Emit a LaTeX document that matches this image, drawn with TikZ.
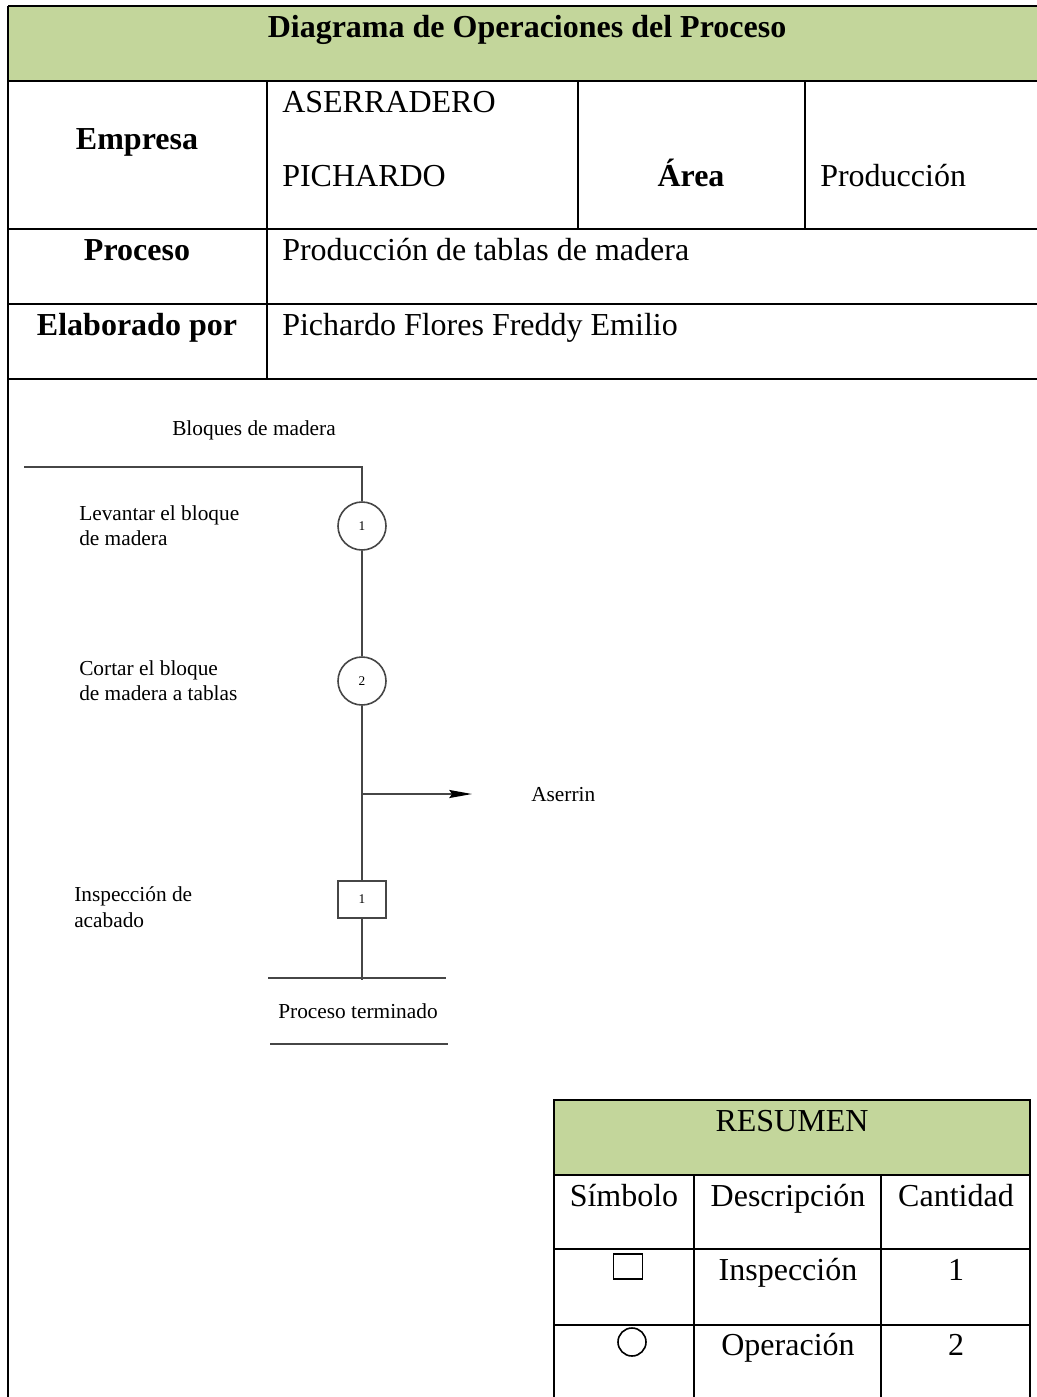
\documentclass[tikz,border=0pt]{standalone}
\usepackage{fontspec}
\setmainfont{Liberation Serif}
\usetikzlibrary{arrows.meta}
\definecolor{hdrgreen}{RGB}{195,214,155}
\definecolor{flowgray}{RGB}{70,70,70}
\tikzset{
  tline/.style={line width=1.5pt, black},
  cell/.style={font=\fontsize{24}{28}\selectfont, inner sep=0pt},
  cellb/.style={font=\fontsize{24}{28}\selectfont\bfseries, inner sep=0pt},
  flow/.style={line width=1.2pt, flowgray},
  lbl/.style={font=\fontsize{16}{19.2}\selectfont, inner sep=0pt, align=left},
  opnode/.style={circle, draw=flowgray, line width=1.2pt, minimum size=36pt, inner sep=0pt, font=\fontsize{10}{11}\selectfont},
  inspnode/.style={rectangle, draw=flowgray, line width=1.2pt, minimum width=36pt, minimum height=27.75pt, inner sep=0pt, font=\fontsize{10}{11}\selectfont},
}
\begin{document}
\begin{tikzpicture}[x=0.75pt, y=-0.75pt]
\useasboundingbox (0,0) rectangle (1037,1397);
% ---------------- header table ----------------
\fill[hdrgreen] (8,6) rectangle (1037,81);
\draw[tline] (8,6) -- (1037,6);
\draw[tline] (8,81) -- (1037,81);
\draw[tline] (8,229) -- (1037,229);
\draw[tline] (8,304) -- (1037,304);
\draw[tline] (8,379) -- (1037,379);
\draw[tline] (8,6) -- (8,1397);
\draw[tline] (267,81) -- (267,379);
\draw[tline] (578,81) -- (578,229);
\draw[tline] (805,81) -- (805,229);
\node[cellb, anchor=base] (title) at (527,37) {Diagrama de Operaciones del Proceso};
\node[cellb, anchor=base] (empresa) at (137,149) {Empresa};
\node[cell, anchor=base west] (aserr) at (282,112) {ASERRADERO};
\node[cell, anchor=base west] (pich) at (282,186) {PICHARDO};
\node[cellb, anchor=base] (area) at (691,186) {Área};
\node[cell, anchor=base west] (prod) at (820,186) {Producción};
\node[cellb, anchor=base] (proceso) at (137,260) {Proceso};
\node[cell, anchor=base west] (procv) at (282,260) {Producción de tablas de madera};
\node[cellb, anchor=base] (elab) at (137,335) {Elaborado por};
\node[cell, anchor=base west] (elabv) at (282,335) {Pichardo Flores Freddy Emilio};
% ---------------- flow diagram ----------------
\node[lbl, anchor=base west] (bloques) at (172,435) {Bloques de madera};
\coordinate (start) at (24,467);
\node[opnode] (op1) at (362,526) {1};
\node[opnode] (op2) at (362,681) {2};
\node[inspnode] (insp) at (362,899.5) {1};
\coordinate (br) at (362,794);
\coordinate (brend) at (472,794);
\coordinate (fin) at (362,980);
\draw[flow] (start) -| (op1.north);
\draw[flow] (op1) -- (op2);
\draw[flow] (op2) -- (insp);
\draw[flow, -{Stealth[length=17pt,width=6pt,inset=2pt,black]}] (br) -- (brend);
\draw[flow] (insp) -- (fin);
\coordinate (l1a) at (268,978);
\coordinate (l1b) at (446,978);
\coordinate (l2a) at (270,1044);
\coordinate (l2b) at (448,1044);
\draw[flow] (l1a) -- (l1b);
\draw[flow] (l2a) -- (l2b);
\node[lbl, anchor=base] (fintxt) at (358,1018) {Proceso terminado};
\node[lbl, anchor=base west] (aserrin) at (531,801) {Aserrin};
\node[lbl, anchor=base west] (t1a) at (79,520) {Levantar el bloque};
\node[lbl, anchor=base west] (t1b) at (79,545.5) {de madera};
\node[lbl, anchor=base west] (t2a) at (79,675) {Cortar el bloque};
\node[lbl, anchor=base west] (t2b) at (79,700.5) {de madera a tablas};
\node[lbl, anchor=base west] (t3a) at (74,901.5) {Inspección de};
\node[lbl, anchor=base west] (t3b) at (74,927) {acabado};
% ---------------- resumen table ----------------
\fill[hdrgreen] (554,1100) rectangle (1030,1175);
\draw[tline] (554,1397) -- (554,1100) -- (1030,1100) -- (1030,1397);
\draw[tline] (554,1175) -- (1030,1175);
\draw[tline] (554,1249) -- (1030,1249);
\draw[tline] (554,1325) -- (1030,1325);
\draw[tline] (694,1175) -- (694,1397);
\draw[tline] (881,1175) -- (881,1397);
\node[cell, anchor=base] (resumen) at (792,1131) {RESUMEN};
\node[cell, anchor=base] (hsim) at (624,1206) {Símbolo};
\node[cell, anchor=base] (hdesc) at (788,1206) {Descripción};
\node[cell, anchor=base] (hcant) at (956,1206) {Cantidad};
\node[draw=black, line width=1.2pt, minimum width=21.5pt, minimum height=18.5pt, inner sep=0pt] (symsq) at (628,1266.5) {};
\node[cell, anchor=base] (dinsp) at (788,1280) {Inspección};
\node[cell, anchor=base] (cinsp) at (956,1280) {1};
\node[draw=black, line width=1.2pt, circle, minimum size=21pt, inner sep=0pt] (symci) at (632,1342) {};
\node[cell, anchor=base] (dop) at (788,1355.5) {Operación};
\node[cell, anchor=base] (cop) at (956,1355.5) {2};
\end{tikzpicture}
\end{document}
